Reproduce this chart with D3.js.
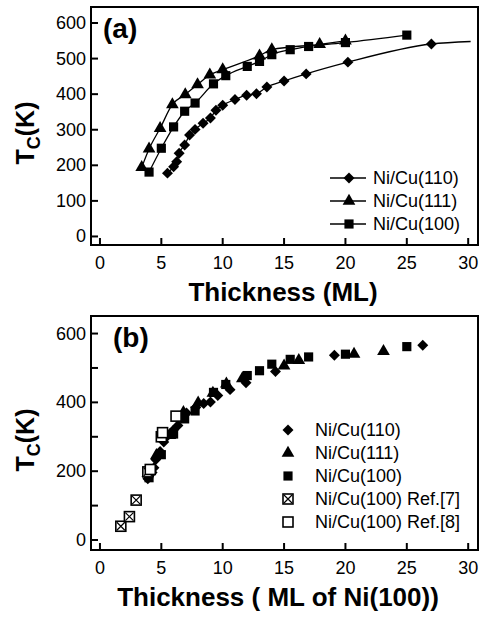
<!DOCTYPE html>
<html>
<head>
<script src="https://d3js.org/d3.v7.min.js"></script>
<style type="text/css">
    body { margin: 0; background: #fff; }
    text { font-family: "Liberation Sans", Arial, sans-serif; }
</style>
</head>
<body>
<div id="chart"></div>
<script type="text/javascript">
    // panel (a): [thickness ML, Tc K]
    var a110 = [[5.5,178],[6.0,196],[6.25,210],[6.45,234],[6.9,257],[7.3,285],[7.75,301],[8.4,318],[9.0,333],[9.45,355],[10.0,369],[11.0,385],[11.95,397],[12.75,401],[13.6,420],[15.0,437],[16.8,457],[20.2,490],[27.0,541]];
    var a110Fit = [[27.0,541],[30.2,548]];
    var a111 = [[3.4,194],[4.0,246],[4.9,304],[5.9,371],[6.95,399],[7.95,427],[8.95,454],[10.0,469],[13.0,508],[14.0,525],[17.9,540],[20.0,550]];
    var a100 = [[4.0,181],[5.0,248],[6.0,308],[6.9,352],[7.75,375],[9.25,429],[10.25,452],[12.0,478],[13.0,492],[14.0,511],[15.5,525],[17.0,534],[20.0,545],[25.0,566]];

    // panel (b): thickness in ML of Ni(100)
    var b110 = [[3.9,178],[4.25,196],[4.4,210],[4.55,234],[4.9,257],[5.2,285],[5.45,301],[5.95,318],[6.35,333],[6.65,355],[7.05,369],[7.8,385],[8.45,397],[9.0,401],[9.6,420],[10.6,437],[11.9,457],[14.3,490],[19.1,537],[26.3,566]];
    var b111 = [[3.9,194],[4.6,246],[5.7,304],[6.8,371],[8.0,399],[9.2,427],[10.3,454],[11.6,469],[15.0,506],[16.2,522],[20.7,540],[23.1,548]];
    var b100 = [[4.0,181],[5.0,248],[6.0,308],[6.9,352],[7.75,375],[9.25,429],[10.25,452],[12.0,478],[13.0,492],[14.0,511],[15.5,525],[17.0,532],[20.0,540],[25.0,562]];
    var bRef7 = [[1.7,40],[2.4,68],[2.95,116],[3.9,198]];
    var bRef8 = [[4.1,205],[5.0,300],[5.1,312],[6.2,360]];

    var xTicks = [0, 5, 10, 15, 20, 25, 30];
    var yTicksA = [0, 100, 200, 300, 400, 500, 600];
    var yTicksB = [0, 100, 200, 300, 400, 500, 600];
    var yLabelsB = [0, 200, 400, 600];

    var width = 480, height = 620;
    var svg = d3.select('#chart').append('svg')
        .attr('width', width)
        .attr('height', height);

    var x = d3.scaleLinear().domain([-0.73, 30.8]).range([91, 478]);
    var yA = d3.scaleLinear().domain([-24, 645]).range([245, 7]);
    var yB = d3.scaleLinear().domain([-29, 651]).range([550, 316]);

    // diamond = square turned 45 degrees
    var sym = {
        diamond: d3.symbol().type(d3.symbolSquare).size(60),
        triangle: d3.symbol().type(d3.symbolTriangle).size(70),
        square: d3.symbol().type(d3.symbolSquare).size(84)
    };
    var rot = { diamond: ' rotate(45)', triangle: '', square: '' };

    function frame(y, yTicks, yLabels) {
        var g = svg.append('g');
        g.append('rect')
            .attr('x', x.range()[0]).attr('y', y.range()[1])
            .attr('width', x.range()[1] - x.range()[0])
            .attr('height', y.range()[0] - y.range()[1])
            .attr('fill', 'none').attr('stroke', '#000').attr('stroke-width', 2);
        g.selectAll('.xt').data(xTicks).enter().append('line')
            .attr('x1', function(d){ return x(d); }).attr('x2', function(d){ return x(d); })
            .attr('y1', y.range()[0]).attr('y2', y.range()[0] - 7)
            .attr('stroke', '#000').attr('stroke-width', 2);
        g.selectAll('.xl').data(xTicks).enter().append('text')
            .attr('x', function(d){ return x(d); })
            .attr('y', y.range()[0] + 24)
            .attr('text-anchor', 'middle')
            .style('font-size', '18px')
            .text(function(d){ return d; });
        g.selectAll('.yt').data(yTicks).enter().append('line')
            .attr('x1', x.range()[0]).attr('x2', x.range()[0] + 7)
            .attr('y1', function(d){ return y(d); }).attr('y2', function(d){ return y(d); })
            .attr('stroke', '#000').attr('stroke-width', 2);
        g.selectAll('.yl').data(yLabels).enter().append('text')
            .attr('x', x.range()[0] - 5)
            .attr('y', function(d){ return y(d) + 6; })
            .attr('text-anchor', 'end')
            .style('font-size', '18px')
            .text(function(d){ return d; });
    }

    function yTitle(cy) {
        var t = svg.append('text')
            .attr('transform', 'translate(34,' + cy + ') rotate(-90)')
            .attr('text-anchor', 'middle')
            .style('font-size', '25px')
            .style('font-weight', 'bold');
        t.append('tspan').text('T');
        t.append('tspan').attr('dy', 6).style('font-size', '18px').text('C');
        t.append('tspan').attr('dy', -6).text('(K)');
    }

    function points(data, y, shape) {
        svg.append('g').selectAll('path').data(data).enter().append('path')
            .attr('d', sym[shape])
            .attr('transform', function(d){ return 'translate(' + x(d[0]) + ',' + y(d[1]) + ')' + rot[shape]; })
            .attr('fill', '#000');
    }

    function curve(data, y) {
        var line = d3.line()
            .x(function(d){ return x(d[0]); })
            .y(function(d){ return y(d[1]); })
            .curve(d3.curveMonotoneX);
        svg.append('path').datum(data)
            .attr('d', line)
            .attr('fill', 'none').attr('stroke', '#000').attr('stroke-width', 1.3);
    }

    // ---- panel (a)
    frame(yA, yTicksA, yTicksA);
    curve(a110.concat(a110Fit.slice(1)), yA);
    curve(a111, yA);
    curve(a100, yA);
    points(a110, yA, 'diamond');
    points(a111, yA, 'triangle');
    points(a100, yA, 'square');

    svg.append('text').attr('x', 103).attr('y', 38)
        .style('font-size', '28px').style('font-weight', 'bold').text('(a)');
    yTitle(133);
    svg.append('text').attr('x', 283).attr('y', 301)
        .attr('text-anchor', 'middle')
        .style('font-size', '26px').style('font-weight', 'bold')
        .text('Thickness (ML)');

    var legA = [['Ni/Cu(110)', 'diamond'], ['Ni/Cu(111)', 'triangle'], ['Ni/Cu(100)', 'square']];
    legA.forEach(function(d, i){
        var ly = 178 + i * 23;
        svg.append('line').attr('x1', 330).attr('x2', 366).attr('y1', ly).attr('y2', ly)
            .attr('stroke', '#000').attr('stroke-width', 1.3);
        svg.append('path').attr('d', sym[d[1]]).attr('transform', 'translate(349,' + ly + ')' + rot[d[1]]);
        svg.append('text').attr('x', 373).attr('y', ly + 6).style('font-size', '18px').text(d[0]);
    });

    // ---- panel (b)
    frame(yB, yTicksB, yLabelsB);
    points(b110, yB, 'diamond');
    points(b111, yB, 'triangle');
    points(b100, yB, 'square');

    var box = svg.append('g');
    function openSquare(g, cx, cy, cross) {
        g.append('rect').attr('x', cx - 5).attr('y', cy - 5).attr('width', 10).attr('height', 10)
            .attr('fill', '#fff').attr('stroke', '#000').attr('stroke-width', 1.6);
        if (cross) {
            g.append('path').attr('d', 'M' + (cx - 4) + ',' + (cy - 4) + 'L' + (cx + 4) + ',' + (cy + 4) +
                'M' + (cx + 4) + ',' + (cy - 4) + 'L' + (cx - 4) + ',' + (cy + 4))
                .attr('stroke', '#000').attr('stroke-width', 1.2);
        }
    }
    bRef7.forEach(function(d){ openSquare(box, x(d[0]), yB(d[1]), true); });
    bRef8.forEach(function(d){ openSquare(box, x(d[0]), yB(d[1]), false); });

    svg.append('text').attr('x', 113).attr('y', 347)
        .style('font-size', '28px').style('font-weight', 'bold').text('(b)');
    yTitle(440);
    svg.append('text').attr('x', 278).attr('y', 606)
        .attr('text-anchor', 'middle')
        .style('font-size', '26px').style('font-weight', 'bold')
        .text('Thickness ( ML of Ni(100))');

    var legB = [['Ni/Cu(110)', 'diamond'], ['Ni/Cu(111)', 'triangle'], ['Ni/Cu(100)', 'square'],
                ['Ni/Cu(100) Ref.[7]', 'ref7'], ['Ni/Cu(100) Ref.[8]', 'ref8']];
    legB.forEach(function(d, i){
        var ly = 430 + i * 23;
        if (sym[d[1]]) {
            svg.append('path').attr('d', sym[d[1]]).attr('transform', 'translate(288,' + ly + ')' + rot[d[1]]);
        } else {
            openSquare(svg, 288, ly, d[1] === 'ref7');
        }
        svg.append('text').attr('x', 315).attr('y', ly + 6).style('font-size', '18px').text(d[0]);
    });
</script>
</body>
</html>
